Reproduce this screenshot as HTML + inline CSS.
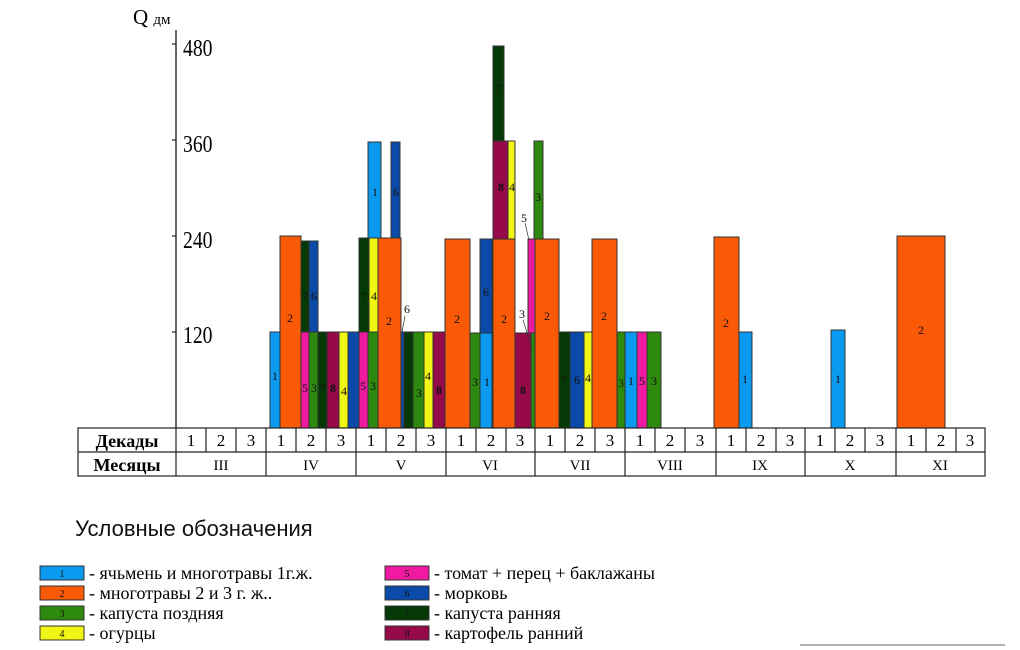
<!DOCTYPE html>
<html><head><meta charset="utf-8"><style>
body{margin:0;background:#fff;}
svg{display:block;font-family:"Liberation Serif",serif;}
.b{stroke:#333;stroke-width:1}
.l{font-size:12px;text-anchor:middle;fill:#111}
</style></head><body>
<svg width="1020" height="650" viewBox="0 0 1020 650">
<!-- axis -->
<line x1="176" y1="30" x2="176" y2="428" stroke="#000" stroke-width="1.2"/>
<g stroke="#000"><line x1="172" y1="44" x2="176" y2="44"/><line x1="172" y1="140" x2="176" y2="140"/><line x1="172" y1="236" x2="176" y2="236"/><line x1="172" y1="332" x2="176" y2="332"/></g>
<g font-size="24" fill="#000" transform="translate(183,0) scale(0.82,1)"><text x="0" y="56">480</text><text x="0" y="152">360</text><text x="0" y="248">240</text><text x="0" y="343">120</text></g>
<text x="133" y="24" font-size="21">Q <tspan font-size="15">дм</tspan></text>
<!-- bars -->
<g class="b">
<rect x="270" y="332" width="10" height="96" fill="#0a9af0"/>
<rect x="280" y="236" width="21" height="192" fill="#fa5a05"/>
<rect x="301" y="332" width="8" height="96" fill="#f01aa0"/>
<rect x="301" y="241" width="8" height="91" fill="#053a06"/>
<rect x="309" y="332" width="9" height="96" fill="#2e8a0e"/>
<rect x="309" y="241" width="9" height="91" fill="#0a4aa8"/>
<rect x="318" y="332" width="9" height="96" fill="#053a06"/>
<rect x="327" y="332" width="12" height="96" fill="#960a4a"/>
<rect x="339" y="332" width="9" height="96" fill="#f0f514"/>
<rect x="348" y="332" width="11" height="96" fill="#0a4aa8"/>
<rect x="359" y="332" width="9" height="96" fill="#f01aa0"/>
<rect x="359" y="238" width="10" height="94" fill="#053a06"/>
<rect x="368" y="332" width="10" height="96" fill="#2e8a0e"/>
<rect x="369" y="238" width="9" height="94" fill="#f0f514"/>
<rect x="368" y="142" width="13" height="96" fill="#0a9af0"/>
<rect x="391" y="142" width="9" height="96" fill="#0a4aa8"/>
<rect x="378" y="238" width="23" height="190" fill="#fa5a05"/>
<rect x="401" y="332" width="3" height="96" fill="#0a4aa8"/>
<rect x="404" y="332" width="9" height="96" fill="#053a06"/>
<rect x="413" y="332" width="11" height="96" fill="#2e8a0e"/>
<rect x="424" y="332" width="9" height="96" fill="#f0f514"/>
<rect x="433" y="332" width="12" height="96" fill="#960a4a"/>
<rect x="445" y="239" width="25" height="189" fill="#fa5a05"/>
<rect x="470" y="333" width="10" height="95" fill="#2e8a0e"/>
<rect x="480" y="333" width="12" height="95" fill="#0a9af0"/>
<rect x="480" y="239" width="12" height="94" fill="#0a4aa8"/>
<rect x="493" y="46" width="11" height="95" fill="#053a06"/>
<rect x="493" y="141" width="15" height="98" fill="#960a4a"/>
<rect x="508" y="141" width="7" height="98" fill="#f0f514"/>
<rect x="493" y="239" width="22" height="189" fill="#fa5a05"/>
<rect x="515" y="333" width="16" height="95" fill="#960a4a"/>
<rect x="531" y="333" width="4" height="95" fill="#2e8a0e"/>
<rect x="528" y="239" width="7" height="94" fill="#f01aa0"/>
<rect x="534" y="141" width="9" height="98" fill="#2e8a0e"/>
<rect x="535" y="239" width="24" height="189" fill="#fa5a05"/>
<rect x="559" y="332" width="11" height="96" fill="#053a06"/>
<rect x="570" y="332" width="14" height="96" fill="#0a4aa8"/>
<rect x="584" y="332" width="8" height="96" fill="#f0f514"/>
<rect x="592" y="239" width="25" height="189" fill="#fa5a05"/>
<rect x="617" y="332" width="8" height="96" fill="#2e8a0e"/>
<rect x="625" y="332" width="12" height="96" fill="#0a9af0"/>
<rect x="637" y="332" width="10" height="96" fill="#f01aa0"/>
<rect x="647" y="332" width="14" height="96" fill="#2e8a0e"/>
<rect x="714" y="237" width="25" height="191" fill="#fa5a05"/>
<rect x="739" y="332" width="13" height="96" fill="#0a9af0"/>
<rect x="831" y="330" width="14" height="98" fill="#0a9af0"/>
<rect x="897" y="236" width="48" height="192" fill="#fa5a05"/>
</g>
<g class="l">
<text x="275" y="380">1</text><text x="290" y="322">2</text><text x="305" y="392">5</text><text x="305" y="300">7</text>
<text x="314" y="392">3</text><text x="314" y="300">6</text><text x="323" y="392">7</text><text x="333" y="392" font-weight="bold">8</text>
<text x="344" y="395">4</text><text x="363" y="390">5</text><text x="373" y="390">3</text><text x="364" y="300">7</text><text x="374" y="300">4</text>
<text x="375" y="196">1</text><text x="396" y="196">6</text><text x="389" y="325">2</text>
<text x="409" y="395">7</text><text x="419" y="397">3</text><text x="428" y="380">4</text><text x="439" y="394" font-weight="bold">8</text>
<text x="457" y="323">2</text><text x="475" y="386">3</text><text x="487" y="386">1</text><text x="486" y="296">6</text>
<text x="498" y="92">7</text><text x="501" y="191" font-weight="bold">8</text><text x="512" y="191">4</text><text x="504" y="323">2</text>
<text x="523" y="394" font-weight="bold">8</text><text x="538" y="201">3</text><text x="547" y="320">2</text>
<text x="564" y="384">7</text><text x="577" y="384">6</text><text x="588" y="382">4</text><text x="604" y="320">2</text>
<text x="621" y="387">3</text><text x="631" y="385">1</text><text x="642" y="385">5</text><text x="654" y="385">3</text>
<text x="726" y="327">2</text><text x="745" y="383">1</text><text x="838" y="383">1</text><text x="921" y="334">2</text>
<text x="407" y="313">6</text><text x="522" y="318">3</text><text x="524" y="222">5</text>
</g>
<g stroke="#333" stroke-width="0.7">
<line x1="405" y1="316" x2="402" y2="332"/><line x1="523" y1="320" x2="532" y2="348"/><line x1="525" y1="223" x2="529" y2="240"/>
</g>
<!-- table -->
<g stroke="#222" stroke-width="1.2" fill="none">
<rect x="78" y="428" width="907" height="48"/>
<line x1="78" y1="452" x2="985" y2="452"/>
<line x1="176" y1="428" x2="176" y2="476"/>
<line x1="206" y1="428" x2="206" y2="452"/><line x1="236" y1="428" x2="236" y2="452"/>
<line x1="266" y1="428" x2="266" y2="476"/><line x1="296" y1="428" x2="296" y2="452"/><line x1="326" y1="428" x2="326" y2="452"/>
<line x1="356" y1="428" x2="356" y2="476"/><line x1="386" y1="428" x2="386" y2="452"/><line x1="416" y1="428" x2="416" y2="452"/>
<line x1="446" y1="428" x2="446" y2="476"/><line x1="476" y1="428" x2="476" y2="452"/><line x1="506" y1="428" x2="506" y2="452"/>
<line x1="535" y1="428" x2="535" y2="476"/><line x1="565" y1="428" x2="565" y2="452"/><line x1="595" y1="428" x2="595" y2="452"/>
<line x1="625" y1="428" x2="625" y2="476"/><line x1="655" y1="428" x2="655" y2="452"/><line x1="685" y1="428" x2="685" y2="452"/>
<line x1="716" y1="428" x2="716" y2="476"/><line x1="746" y1="428" x2="746" y2="452"/><line x1="776" y1="428" x2="776" y2="452"/>
<line x1="805" y1="428" x2="805" y2="476"/><line x1="835" y1="428" x2="835" y2="452"/><line x1="865" y1="428" x2="865" y2="452"/>
<line x1="896" y1="428" x2="896" y2="476"/><line x1="926" y1="428" x2="926" y2="452"/><line x1="956" y1="428" x2="956" y2="452"/>
</g>
<g font-size="17" text-anchor="middle" fill="#000">
<text x="127" y="447" font-weight="bold" font-size="18">Декады</text>
<text x="127" y="471" font-weight="bold" font-size="18">Месяцы</text>
<text x="191" y="446">1</text><text x="221" y="446">2</text><text x="251" y="446">3</text>
<text x="281" y="446">1</text><text x="311" y="446">2</text><text x="341" y="446">3</text>
<text x="371" y="446">1</text><text x="401" y="446">2</text><text x="431" y="446">3</text>
<text x="461" y="446">1</text><text x="491" y="446">2</text><text x="520" y="446">3</text>
<text x="550" y="446">1</text><text x="580" y="446">2</text><text x="610" y="446">3</text>
<text x="640" y="446">1</text><text x="670" y="446">2</text><text x="700" y="446">3</text>
<text x="731" y="446">1</text><text x="761" y="446">2</text><text x="790" y="446">3</text>
<text x="820" y="446">1</text><text x="850" y="446">2</text><text x="880" y="446">3</text>
<text x="911" y="446">1</text><text x="941" y="446">2</text><text x="970" y="446">3</text>
<text x="221" y="470" font-size="15">III</text><text x="311" y="470" font-size="15">IV</text><text x="401" y="470" font-size="15">V</text>
<text x="490" y="470" font-size="15">VI</text><text x="580" y="470" font-size="15">VII</text><text x="670" y="470" font-size="15">VIII</text>
<text x="760" y="470" font-size="15">IX</text><text x="850" y="470" font-size="15">X</text><text x="940" y="470" font-size="15">XI</text>
</g>
<!-- legend -->
<text x="75" y="536" font-size="22" font-family="Liberation Sans, sans-serif" fill="#111">Условные обозначения</text>
<g stroke="#333" stroke-width="1">
<rect x="40" y="566" width="44" height="14" fill="#0a9af0"/>
<rect x="40" y="586" width="44" height="14" fill="#fa5a05"/>
<rect x="40" y="606" width="44" height="14" fill="#2e8a0e"/>
<rect x="40" y="626" width="44" height="14" fill="#f0f514"/>
<rect x="385" y="566" width="44" height="14" fill="#f01aa0"/>
<rect x="385" y="586" width="44" height="14" fill="#0a4aa8"/>
<rect x="385" y="606" width="44" height="14" fill="#053a06"/>
<rect x="385" y="626" width="44" height="14" fill="#960a4a"/>
</g>
<g font-size="10" text-anchor="middle" fill="#111">
<text x="62" y="577">1</text><text x="62" y="597">2</text><text x="62" y="617">3</text><text x="62" y="637">4</text>
<text x="407" y="577">5</text><text x="407" y="597">6</text><text x="407" y="617">7</text><text x="407" y="637">8</text>
</g>
<g font-size="18" fill="#000">
<text x="89" y="579">- ячьмень и многотравы 1г.ж.</text>
<text x="89" y="599">- многотравы 2 и 3 г. ж..</text>
<text x="89" y="619">- капуста поздняя</text>
<text x="89" y="639">- огурцы</text>
<text x="434" y="579">- томат + перец + баклажаны</text>
<text x="434" y="599">- морковь</text>
<text x="434" y="619">- капуста ранняя</text>
<text x="434" y="639">- картофель ранний</text>
</g>
<line x1="800" y1="645" x2="1005" y2="645" stroke="#666" stroke-width="1"/>
</svg>
</body></html>
